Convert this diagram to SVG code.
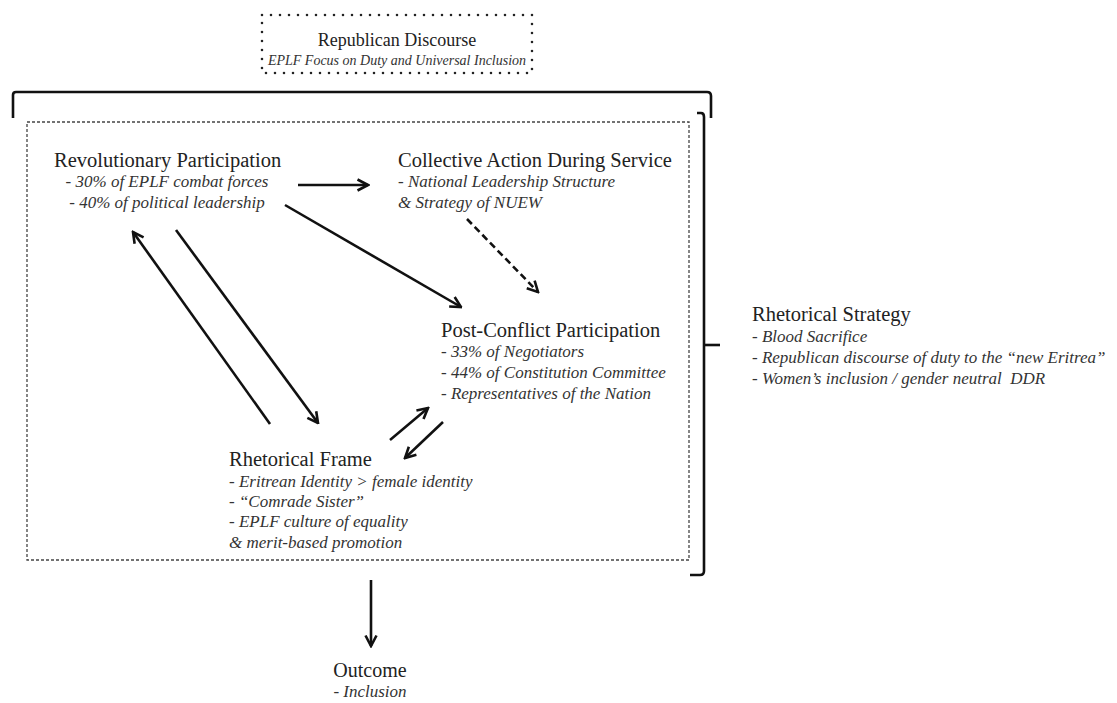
<svg xmlns="http://www.w3.org/2000/svg" width="1117" height="703" viewBox="0 0 1117 703">
<defs>
<style>
.t{font-family:"Liberation Serif","Times New Roman",serif;font-size:20.5px;fill:#222}
.s{font-family:"Liberation Serif","Times New Roman",serif;font-size:17px;font-style:italic;fill:#333}
.c{stroke:#111;stroke-width:2.6;fill:none}
.br{stroke:#111;stroke-width:2.6;fill:none}
</style>
<marker id="ah" viewBox="0 0 14 14" refX="12.5" refY="7" markerWidth="14" markerHeight="14" markerUnits="userSpaceOnUse" orient="auto">
<path d="M2,1.5 L12.5,7 L2,12.5" fill="none" stroke="#111" stroke-width="2.6"/>
</marker>
</defs>
<rect width="1117" height="703" fill="#fff"/>

<g id="republican-discourse">
<rect x="262" y="15" width="270" height="58" fill="none" stroke="#222" stroke-width="2.6" stroke-dasharray="0 9" stroke-linecap="round"/>
<text class="t" x="397" y="46" text-anchor="middle" style="font-size:18px">Republican Discourse</text>
<text class="s" x="397" y="65" text-anchor="middle" style="font-size:14px">EPLF Focus on Duty and Universal Inclusion</text>
</g>

<g id="brackets">
<path class="br" d="M13,118 L13,95 Q13,92 16,92 L707,92 Q711,92 711,96 L711,118"/>
<path class="br" d="M697,113 L701,113 Q704,113 704,117 L704,571 Q704,575 700,575 L690,575"/>
<path class="br" d="M704,345 L720,345"/>
</g>

<g id="frame">
<rect x="27" y="122" width="662" height="438" fill="none" stroke="#444" stroke-width="1.3" stroke-dasharray="3 2"/>
</g>

<g id="revolutionary-participation">
<text class="t" x="54" y="167">Revolutionary Participation</text>
<text class="s" x="167" y="187" text-anchor="middle">- 30% of EPLF combat forces</text>
<text class="s" x="167" y="208" text-anchor="middle">- 40% of political leadership</text>
</g>

<g id="collective-action">
<text class="t" x="398" y="167">Collective Action During Service</text>
<text class="s" x="398" y="187">- National Leadership Structure</text>
<text class="s" x="398" y="208">&amp; Strategy of NUEW</text>
</g>

<g id="post-conflict">
<text class="t" x="441" y="337">Post-Conflict Participation</text>
<text class="s" x="441" y="357">- 33% of Negotiators</text>
<text class="s" x="441" y="378">- 44% of Constitution Committee</text>
<text class="s" x="441" y="399">- Representatives of the Nation</text>
</g>

<g id="rhetorical-frame">
<text class="t" x="229" y="466">Rhetorical Frame</text>
<text class="s" x="229" y="487">- Eritrean Identity &gt; female identity</text>
<text class="s" x="229" y="507">- “Comrade Sister”</text>
<text class="s" x="229" y="527">- EPLF culture of equality</text>
<text class="s" x="229" y="548">&amp; merit-based promotion</text>
</g>

<g id="rhetorical-strategy">
<text class="t" x="752" y="321">Rhetorical Strategy</text>
<text class="s" x="752" y="342">- Blood Sacrifice</text>
<text class="s" x="752" y="363">- Republican discourse of duty to the “new Eritrea”</text>
<text class="s" x="752" y="384">- Women’s inclusion / gender neutral &#160;DDR</text>
</g>

<g id="outcome">
<text class="t" x="370" y="677" text-anchor="middle" style="font-size:20px">Outcome</text>
<text class="s" x="370" y="697" text-anchor="middle">- Inclusion</text>
</g>

<g id="connectors">
<line class="c" x1="298" y1="185" x2="368" y2="185" marker-end="url(#ah)"/>
<line class="c" x1="285" y1="205" x2="461" y2="307" marker-end="url(#ah)"/>
<line class="c" x1="467" y1="219" x2="538" y2="292" stroke-dasharray="7 4" marker-end="url(#ah)"/>
<line class="c" x1="270" y1="424" x2="133" y2="232" marker-end="url(#ah)"/>
<line class="c" x1="176" y1="230" x2="318" y2="423" marker-end="url(#ah)"/>
<line class="c" x1="390" y1="440" x2="428" y2="408" marker-end="url(#ah)"/>
<line class="c" x1="443" y1="422" x2="405" y2="458" marker-end="url(#ah)"/>
<line class="c" x1="371" y1="580" x2="371" y2="646" marker-end="url(#ah)"/>
</g>
</svg>
